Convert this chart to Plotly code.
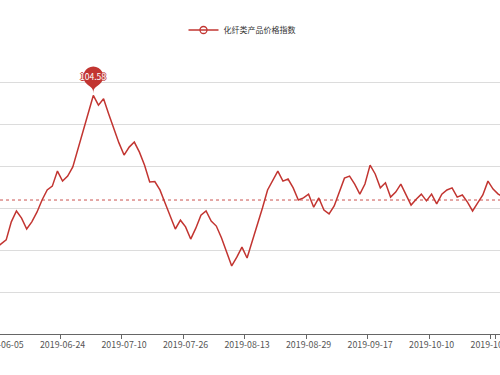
import math
import numpy as np
import pandas as pd
import plotly.graph_objects as go

# ---- data -------------------------------------------------------------
series_name = "化纤类产品价格指数"
holidays = ["2019-06-07", "2019-09-13", "2019-10-01", "2019-10-02",
            "2019-10-03", "2019-10-04", "2019-10-07"]
dates = [d.strftime("%Y-%m-%d") for d in pd.bdate_range("2019-06-04", "2019-10-30")
         if d.strftime("%Y-%m-%d") not in holidays]

values = [100.95, 101.04, 101.14, 101.57, 101.83, 101.66, 101.40, 101.57, 101.80, 102.09,
          102.33, 102.42, 102.78, 102.54, 102.66, 102.88, 103.30, 103.73, 104.16, 104.58,
          104.35, 104.50, 104.14, 103.78, 103.45, 103.16, 103.35, 103.47, 103.23, 102.92,
          102.52, 102.53, 102.33, 102.02, 101.69, 101.40, 101.61, 101.45, 101.16, 101.42,
          101.73, 101.83, 101.59, 101.47, 101.19, 100.83, 100.52, 100.73, 100.97, 100.71,
          101.09, 101.47, 101.90, 102.33, 102.57, 102.78, 102.54, 102.59, 102.38, 102.09,
          102.14, 102.23, 101.92, 102.14, 101.85, 101.76, 101.95, 102.26, 102.61, 102.66,
          102.47, 102.23, 102.47, 102.92, 102.71, 102.38, 102.50, 102.16, 102.28, 102.47,
          102.23, 101.97, 102.11, 102.23, 102.07, 102.23, 102.00, 102.23, 102.33, 102.38,
          102.16, 102.21, 102.04, 101.83, 102.02, 102.21, 102.54, 102.35, 102.23, 102.16]

average_value = 102.09
tick_dates = dates[1::12]
y_grid = [99.9, 100.9, 101.9, 102.9, 103.9, 104.9, 105.9]

# ---- styling ------------------------------------------------------------
RED = "#c23531"
FONT = "Noto Sans CJK SC, Noto Sans, sans-serif"

peak_idx = int(np.argmax(values))
peak_date = dates[peak_idx]
peak_val = values[peak_idx]


def pin_path(tip=2.0, r=10.0, dist=17.0):
    """ECharts-like 'pin' balloon, pixel coords relative to anchor (y up)."""
    cy = tip + dist
    dy = r * r / dist
    ang = math.asin(dy / r)
    dx = math.cos(ang) * r
    tanx, tany = math.sin(ang), math.cos(ang)
    cp1, cp2 = r * 0.6, r * 0.7
    a0 = math.pi + ang
    a1 = -ang
    nseg = 4
    seg = (a1 - a0) / nseg
    k = 4.0 / 3.0 * math.tan(seg / 4.0)
    p = f"M{-dx:.3f},{cy - dy:.3f}"
    for s in range(nseg):
        t0 = a0 + s * seg
        t1 = t0 + seg
        x0, y0 = r * math.cos(t0), cy + r * math.sin(t0)
        x1, y1 = r * math.cos(t1), cy + r * math.sin(t1)
        c1x, c1y = x0 - k * r * math.sin(t0), y0 + k * r * math.cos(t0)
        c2x, c2y = x1 + k * r * math.sin(t1), y1 - k * r * math.cos(t1)
        p += f" C{c1x:.3f},{c1y:.3f} {c2x:.3f},{c2y:.3f} {x1:.3f},{y1:.3f}"
    p += f" C{dx - tanx * cp1:.3f},{cy - dy - tany * cp1:.3f} 0,{tip + cp2:.3f} 0,{tip:.3f}"
    p += f" C0,{tip + cp2:.3f} {-dx + tanx * cp1:.3f},{cy - dy - tany * cp1:.3f} {-dx:.3f},{cy - dy:.3f} Z"
    return p, cy


path_str, pin_cy = pin_path()

fig = go.Figure()
fig.add_trace(go.Scatter(
    x=dates, y=values, mode="lines", name=series_name,
    line=dict(color=RED, width=1.5), showlegend=False, hoverinfo="x+y"))
fig.add_trace(go.Scatter(
    x=[None], y=[None], mode="lines+markers", name=series_name,
    line=dict(color=RED, width=1.3),
    marker=dict(symbol="circle-open", size=7, color=RED, line=dict(width=1.3)),
    showlegend=True))

# average mark line
fig.add_shape(type="line", xref="paper", yref="y", x0=0, x1=1,
              y0=average_value, y1=average_value,
              line=dict(color="rgba(194,53,49,0.85)", width=1, dash="3px,3px"))
# max mark point pin
fig.add_shape(type="path", xref="x", yref="y", xsizemode="pixel", ysizemode="pixel",
              xanchor=peak_date, yanchor=peak_val, path=path_str,
              fillcolor=RED, line=dict(color=RED, width=0))
fig.add_annotation(x=peak_date, y=peak_val, yshift=pin_cy, text=f"{peak_val:.2f}",
                   showarrow=False,
                   font=dict(color="white", size=8.5, family=FONT,
                             shadow="1px 0 0 #c23531, -1px 0 0 #c23531, 0 1px 0 #c23531, 0 -1px 0 #c23531"))

fig.update_layout(
    width=500, height=375,
    margin=dict(l=0, r=0, t=40, b=41, autoexpand=False),
    paper_bgcolor="white", plot_bgcolor="white",
    font=dict(family=FONT, size=8, color="#555"),
    legend=dict(orientation="h", x=0.484, xanchor="center", y=1.034, yanchor="middle",
                font=dict(size=8, color="#333", family=FONT), itemwidth=30,
                bgcolor="rgba(0,0,0,0)"),
    xaxis=dict(type="category", categoryorder="array", categoryarray=dates,
               range=[0.793, 98.35], tickmode="array", tickvals=tick_dates,
               ticktext=tick_dates, tickson="boundaries", ticks="outside", ticklen=4,
               tickcolor="#666", showline=True, linecolor="#666", linewidth=1,
               showgrid=False, tickangle=0, automargin=False, ticklabelstandoff=2,
               tickfont=dict(size=8.8, color="#555")),
    yaxis=dict(range=[98.9, 105.9], tickmode="array", tickvals=y_grid,
               showticklabels=False, ticks="", showgrid=True, gridcolor="#dcdcdc",
               gridwidth=1, zeroline=False, showline=False, automargin=False),
)

fig.write_html(
    "out.html",
    config={"displayModeBar": False},
    post_script="document.body.style.margin='0';document.body.style.padding='0';"
                "document.body.style.overflow='hidden';",
)
